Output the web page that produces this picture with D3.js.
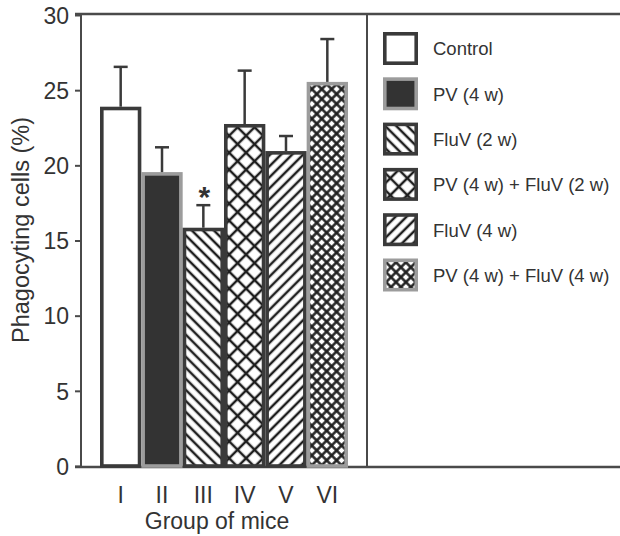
<!DOCTYPE html>
<html>
<head>
<meta charset="utf-8">
<script src="https://cdn.jsdelivr.net/npm/d3@7"></script>
<style>
  body { margin: 0; background: #fff; }
  text { font-family: "Liberation Sans", Arial, sans-serif; fill: #333; }
</style>
</head>
<body>
<div id="chart"></div>
<script>
// data
const groups = ["I", "II", "III", "IV", "V", "VI"];
const labels = ["Control", "PV (4 w)", "FluV (2 w)", "PV (4 w) + FluV (2 w)", "FluV (4 w)", "PV (4 w) + FluV (4 w)"];
const means = [23.9, 19.55, 15.85, 22.75, 20.95, 25.55];
const errs = [2.65, 1.65, 1.5, 3.55, 1.0, 2.85];
const yTicks = [0, 5, 10, 15, 20, 25, 30];
const signif = ["", "", "*", "", "", ""];

// bar looks: fill / pattern and border colour
const fills = ["#fff", "#333", "url(#hatchBack)", "url(#crossBig)", "url(#hatchFwd)", "url(#crossFine)"];
const borders = ["#3a3a3a", "#9c9c9c", "#3a3a3a", "#3a3a3a", "#3a3a3a", "#9c9c9c"];

const W = 620, H = 536;
const plotL = 81, plotR = 367, plotT = 14, plotB = 466;

const svg = d3.select("#chart")
    .append("svg")
    .attr("width", W)
    .attr("height", H);

// patterns
const defs = svg.append("defs");
function linePattern(id, spacing, angle, cross) {
    const p = defs.append("pattern")
        .attr("id", id)
        .attr("patternUnits", "userSpaceOnUse")
        .attr("width", spacing)
        .attr("height", spacing)
        .attr("patternTransform", `rotate(${angle})`);
    p.append("rect").attr("width", spacing).attr("height", spacing).attr("fill", "#fff");
    p.append("line")
        .attr("x1", spacing / 2).attr("y1", 0)
        .attr("x2", spacing / 2).attr("y2", spacing)
        .attr("stroke", "#1e1e1e").attr("stroke-width", 2.5);
    if (cross) {
        p.append("line")
            .attr("x1", 0).attr("y1", spacing / 2)
            .attr("x2", spacing).attr("y2", spacing / 2)
            .attr("stroke", "#1e1e1e").attr("stroke-width", 2.5);
    }
}
linePattern("hatchBack", 7.8, -45, false);
linePattern("hatchFwd", 7.8, 45, false);
linePattern("crossBig", 12, 45, true);
linePattern("crossFine", 7, 45, true);

// scales
const x = d3.scaleBand()
    .domain(groups)
    .range([plotL, plotR])
    .paddingInner(0)
    .paddingOuter(0.46);

const y = d3.scaleLinear()
    .domain([0, 30])
    .range([plotB, plotT + 1]);

// frame lines
const frameColor = "#4a4a4a";
svg.append("line")
    .attr("x1", 75).attr("x2", W).attr("y1", plotT).attr("y2", plotT)
    .attr("stroke", frameColor).attr("stroke-width", 2.5);
svg.append("line")
    .attr("x1", 75).attr("x2", W).attr("y1", plotB + 1).attr("y2", plotB + 1)
    .attr("stroke", frameColor).attr("stroke-width", 2.5);
svg.append("line")
    .attr("x1", plotR).attr("x2", plotR).attr("y1", plotT).attr("y2", plotB + 1)
    .attr("stroke", frameColor).attr("stroke-width", 2);

// y axis
const yAxis = svg.append("g")
    .attr("transform", `translate(${plotL},0)`)
    .call(d3.axisLeft(y).tickValues(yTicks).tickSize(6).tickPadding(6));
yAxis.select(".domain").remove();
yAxis.selectAll(".tick line").attr("stroke", frameColor).attr("stroke-width", 2);
yAxis.selectAll(".tick text")
    .style("font-size", "23px")
    .style("font-family", "'Liberation Sans', Arial, sans-serif")
    .attr("fill", "#333")
    .attr("dy", "0.36em");
svg.append("line")
    .attr("x1", plotL).attr("x2", plotL).attr("y1", plotT).attr("y2", plotB + 1)
    .attr("stroke", frameColor).attr("stroke-width", 2);

// bars
const sw = 3.6;
const bars = svg.append("g");
groups.forEach((g, i) => {
    const x0 = x(g), bw = x.bandwidth();
    const top = y(means[i]);
    bars.append("rect")
        .attr("x", x0 + sw / 2)
        .attr("y", top + sw / 2)
        .attr("width", bw - sw)
        .attr("height", plotB - top - sw / 2)
        .attr("fill", fills[i])
        .attr("stroke", borders[i])
        .attr("stroke-width", sw);
    // error bar (upper only)
    const cx = x0 + bw / 2;
    const yTop = y(means[i] + errs[i]);
    bars.append("line")
        .attr("x1", cx).attr("x2", cx).attr("y1", top).attr("y2", yTop)
        .attr("stroke", "#3a3a3a").attr("stroke-width", 2.5);
    bars.append("line")
        .attr("x1", cx - 7).attr("x2", cx + 7).attr("y1", yTop).attr("y2", yTop)
        .attr("stroke", "#3a3a3a").attr("stroke-width", 2.5);
    if (signif[i]) {
        svg.append("text")
            .attr("x", cx + 1)
            .attr("y", yTop + 2)
            .attr("text-anchor", "middle")
            .style("font-size", "30px")
            .style("font-weight", "bold")
            .text(signif[i]);
    }
});

// x tick labels
svg.append("g").selectAll("text")
    .data(groups)
    .join("text")
    .attr("x", d => x(d) + x.bandwidth() / 2)
    .attr("y", 503)
    .attr("text-anchor", "middle")
    .style("font-size", "23px")
    .text(d => d);

// axis titles
svg.append("text")
    .attr("x", (plotL + plotR) / 2 - 7)
    .attr("y", 529)
    .attr("text-anchor", "middle")
    .style("font-size", "23px")
    .text("Group of mice");

svg.append("text")
    .attr("transform", `translate(29,230) rotate(-90)`)
    .attr("text-anchor", "middle")
    .style("font-size", "23.5px")
    .text("Phagocyting cells (%)");

// legend
const legend = svg.append("g");
const rowStep = 45.3;
labels.forEach((lab, i) => {
    const cy = 48.5 + i * rowStep;
    legend.append("rect")
        .attr("x", 383 + sw / 2)
        .attr("y", cy - 16.5 + sw / 2)
        .attr("width", 35 - sw)
        .attr("height", 33 - sw)
        .attr("fill", fills[i])
        .attr("stroke", borders[i])
        .attr("stroke-width", sw);
    legend.append("text")
        .attr("x", 433)
        .attr("y", cy + 6.8)
        .style("font-size", "18.5px")
        .text(lab);
});
</script>
</body>
</html>
